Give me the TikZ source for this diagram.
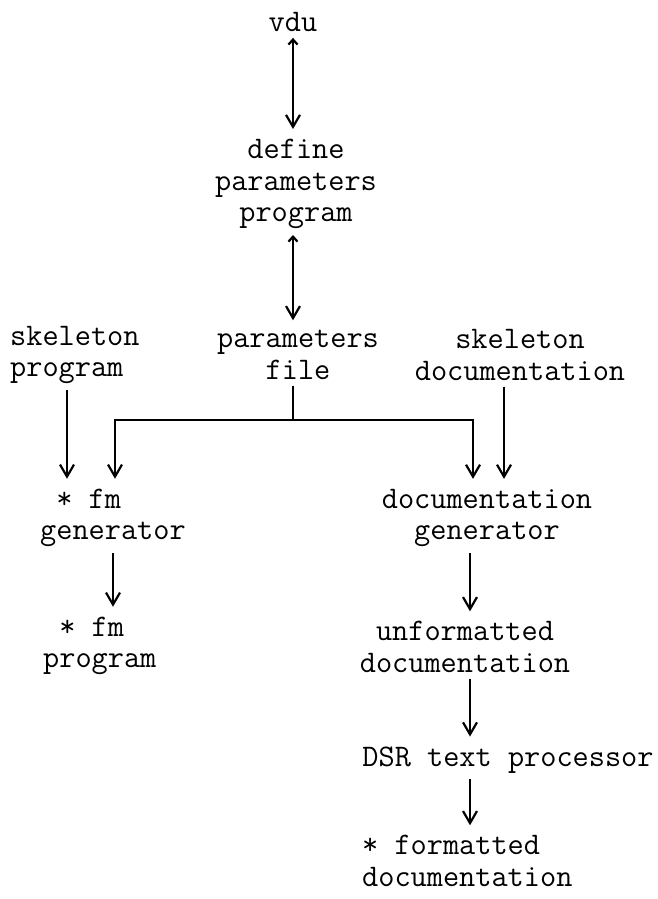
\documentclass[tikz,border=0pt]{standalone}
\usepackage{fontspec}
\usetikzlibrary{arrows.meta}
\tikzset{
  lbl/.style={font=\ttfamily\fontsize{31.4}{31.5}\selectfont, inner sep=0pt, align=center},
  lbll/.style={lbl, align=left},
  flow/.style={line width=2.8pt, shorten <=6pt, shorten >=10pt,
    -{Straight Barb[length=12pt,width=14pt,line width=2.2pt]}},
  both/.style={line width=2.8pt, shorten <=6pt, shorten >=10pt,
    {Straight Barb[length=5pt,width=9pt,line width=2.2pt]}-{Straight Barb[length=12pt,width=14pt,line width=2.2pt]}},
  plain/.style={line width=2.8pt}
}
\begin{document}
\begin{tikzpicture}[x=1pt,y=-1pt]
\useasboundingbox (0,0) rectangle (658,899);

% labels
\node[lbl] (vdu) at (293,22) {vdu};
\node[lbl] (dpp) at (296,184) {define\\parameters\\program};
\node[lbl] (pf)  at (298,355) {parameters\\file};
\node[lbll,anchor=west] (sp) at (10,355) {skeleton\\program};
\node[lbl] (sd)  at (520,355) {skeleton\\documentation};
\node[lbll,anchor=west] (fmg) at (40,518) {\hphantom{x}* fm\\generator};
\node[lbll,anchor=west] (fmp) at (43,646) {\hphantom{x}* fm\\program};
\node[lbl] (dg)  at (487,518) {documentation\\generator};
\node[lbl] (ud)  at (465,647) {unformatted\\documentation};
\node[lbl] (dsr) at (508,760) {DSR text processor};
\node[lbll,anchor=west] (fd) at (362,861) {* formatted\\documentation};

% junction of the parameters file output
\coordinate (fork)  at (293,420);
\coordinate (forkL) at (115,420);
\coordinate (forkR) at (473,420);

% connectors
\draw[both] (vdu.south -| fork) -- (dpp.north -| fork);
\draw[both] (dpp.south -| fork) -- (pf.north -| fork);
\draw[plain, shorten <=6pt] (pf.south -| fork) -- (fork);
\draw[flow, shorten <=0pt] (fork) -- (forkL) -- (forkL |- fmg.north);
\draw[flow, shorten <=0pt] (fork) -- (forkR) -- (forkR |- dg.north);
\draw[flow] (sp.south -| 67,0) -- (fmg.north -| 67,0);
\draw[flow] (sd.south -| 504,0) -- (dg.north -| 504,0);
\draw[flow] (fmg.south -| 113,0) -- (fmp.north -| 113,0);
\draw[flow] (dg.south -| 470,0) -- (ud.north -| 470,0);
\draw[flow] (ud.south -| 470,0) -- (dsr.north -| 470,0);
\draw[flow] (dsr.south -| 470,0) -- (fd.north -| 470,0);
\end{tikzpicture}
\end{document}
